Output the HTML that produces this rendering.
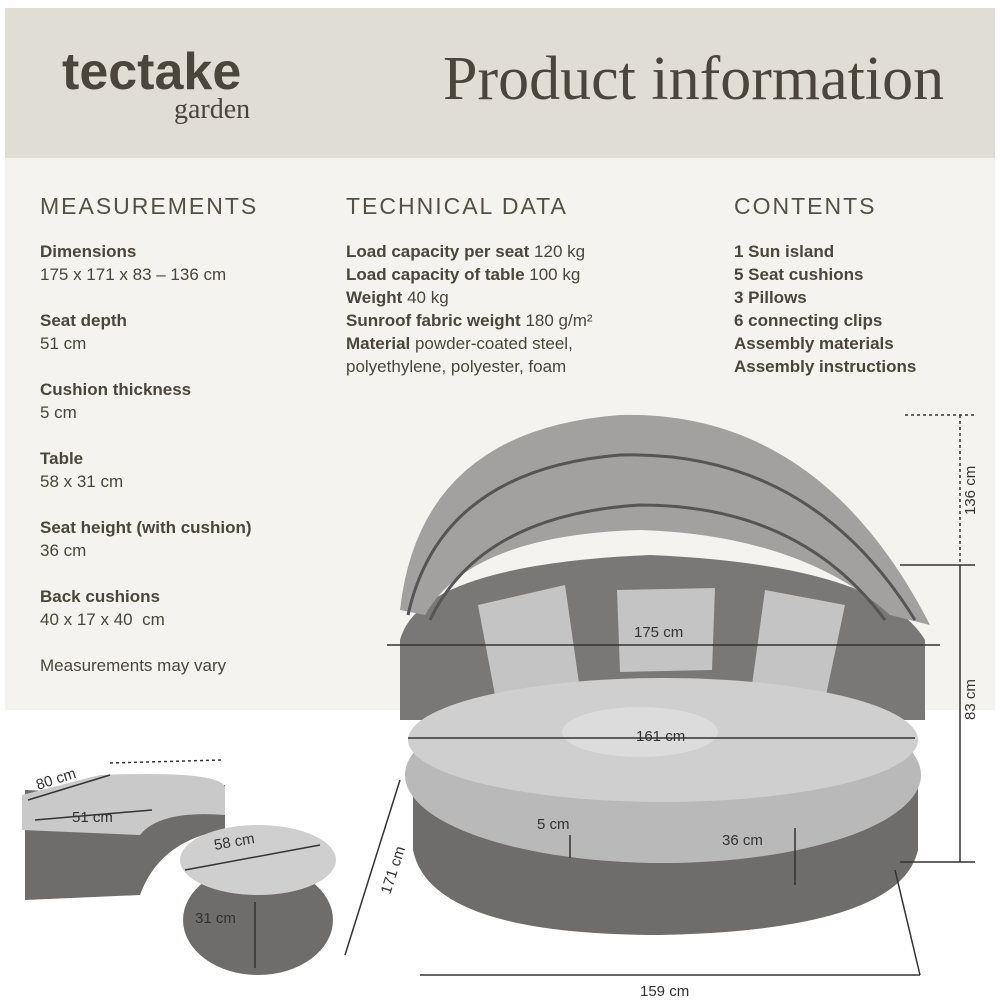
<!DOCTYPE html>
<html><head><meta charset="utf-8"><style>
body{margin:0;width:1000px;height:1000px;background:#fff;position:relative;overflow:hidden;font-family:"Liberation Sans",sans-serif;color:#4a463c}
.hdr{position:absolute;left:5px;top:8px;width:990px;height:150px;background:#e0ddd5}
.body{position:absolute;left:5px;top:158px;width:990px;height:552px;background:#f4f3ef}
.t{position:absolute;white-space:nowrap}
h3{margin:0;font-weight:normal;font-size:23px;letter-spacing:2px;color:#555046}
.c{font-size:17px;line-height:23px}
.c b{font-weight:bold}
.gap{height:23px}
.d{font-family:"Liberation Sans",sans-serif;font-size:15px;fill:#333}
</style></head><body>
<div class="hdr"></div><div class="body"></div>
<div class="t" style="left:62px;top:42px;font-size:52px;font-weight:bold;line-height:60px;letter-spacing:0px">tectake</div>
<div class="t" style="left:174px;top:94px;font-family:'Liberation Serif',serif;font-size:28px">garden</div>
<div class="t" style="left:443px;top:44px;font-family:'Liberation Serif',serif;font-size:62px">Product information</div>

<div class="t" style="left:40px;top:193px"><h3>MEASUREMENTS</h3></div>
<div class="t c" style="left:40px;top:240px"><b>Dimensions</b><br>175 x 171 x 83 – 136 cm<div class="gap"></div><b>Seat depth</b><br>51 cm<div class="gap"></div><b>Cushion thickness</b><br>5 cm<div class="gap"></div><b>Table</b><br>58 x 31 cm<div class="gap"></div><b>Seat height (with cushion)</b><br>36 cm<div class="gap"></div><b>Back cushions</b><br>40 x 17 x 40 &nbsp;cm<div class="gap"></div>Measurements may vary</div>

<div class="t" style="left:346px;top:193px"><h3>TECHNICAL DATA</h3></div>
<div class="t c" style="left:346px;top:240px"><b>Load capacity per seat</b> 120 kg<br><b>Load capacity of table</b> 100 kg<br><b>Weight</b> 40 kg<br><b>Sunroof fabric weight</b> 180 g/m²<br><b>Material</b> powder-coated steel,<br>polyethylene, polyester, foam</div>

<div class="t" style="left:734px;top:193px"><h3>CONTENTS</h3></div>
<div class="t c" style="left:734px;top:240px"><b>1 Sun island<br>5 Seat cushions<br>3 Pillows<br>6 connecting clips<br>Assembly materials<br>Assembly instructions</b></div>

<svg class="t" style="left:0;top:0" width="1000" height="1000">
<!-- back wicker -->
<path d="M400 640 Q420 565 650 555 Q880 565 925 640 L925 720 L400 720 Z" fill="#7a7876"/>
<!-- canopy -->
<path d="M400 610 Q420 430 620 415 Q820 410 930 625 L890 615 Q800 535 640 530 Q470 535 425 615 Z" fill="#a3a19f"/>
<path d="M408 615 Q440 470 620 455 Q810 450 915 620" fill="none" stroke="#555" stroke-width="3"/>
<path d="M430 620 Q480 515 640 505 Q800 505 885 620" fill="none" stroke="#555" stroke-width="3"/>
<!-- pillows -->
<path d="M478 605 L565 585 L580 690 L495 695 Z" fill="#c4c4c4"/>
<path d="M617 590 L715 588 L712 670 L620 672 Z" fill="#c4c4c4"/>
<path d="M765 590 L845 605 L825 700 L752 685 Z" fill="#c4c4c4"/>
<!-- base -->
<path d="M413 770 L413 850 Q430 935 660 935 Q900 930 918 850 L918 770 Z" fill="#6f6d6b"/>
<!-- seat -->
<ellipse cx="663" cy="775" rx="258" ry="88" fill="#b9b9b9"/>
<ellipse cx="663" cy="740" rx="255" ry="62" fill="#cfcfcf"/>
<ellipse cx="640" cy="732" rx="78" ry="25" fill="#dcdcdc"/>
<!-- dimension lines -->
<g stroke="#333" stroke-width="1.5" fill="none">
<line x1="387" y1="645" x2="940" y2="645"/><line x1="408" y1="738" x2="915" y2="738"/>
<line x1="905" y1="415" x2="975" y2="415" stroke-dasharray="3,3"/><line x1="960" y1="415" x2="960" y2="565" stroke-dasharray="3,3"/>
<line x1="900" y1="565" x2="975" y2="565"/><line x1="960" y1="565" x2="960" y2="862"/><line x1="900" y1="862" x2="975" y2="862"/>
<line x1="400" y1="780" x2="345" y2="955"/><line x1="420" y1="975" x2="920" y2="975"/><line x1="920" y1="975" x2="895" y2="870"/>
<line x1="570" y1="835" x2="570" y2="858"/><line x1="795" y1="828" x2="795" y2="885"/>
</g>
<text class="d" x="634" y="637">175 cm</text><text class="d" x="636" y="741">161 cm</text>
<text class="d" x="537" y="829">5 cm</text><text class="d" x="722" y="845">36 cm</text>
<text class="d" x="640" y="996">159 cm</text>
<text class="d" transform="translate(975 515) rotate(-90)">136 cm</text>
<text class="d" transform="translate(975 720) rotate(-90)">83 cm</text>
<text class="d" transform="translate(390 895) rotate(-72)">171 cm</text>
<!-- footstool -->
<path d="M25 790 L25 900 L140 895 Q160 840 225 830 L225 785 Q150 780 150 795 Z" fill="#6f6d6b"/>
<path d="M22 795 L22 830 L140 835 Q160 810 225 815 L225 790 Q230 770 100 775 Z" fill="#c9c9c9"/>
<ellipse cx="258" cy="920" rx="75" ry="55" fill="#6f6d6b"/>
<ellipse cx="258" cy="860" rx="78" ry="35" fill="#cfcfcf"/>
<g stroke="#333" stroke-width="1.5" fill="none">
<line x1="28" y1="800" x2="110" y2="775"/><line x1="110" y1="763" x2="222" y2="760" stroke-dasharray="3,3"/>
<line x1="35" y1="820" x2="152" y2="810"/><line x1="185" y1="870" x2="320" y2="845"/><line x1="255" y1="902" x2="255" y2="968"/>
</g>
<text class="d" transform="translate(38 790) rotate(-18)">80 cm</text>
<text class="d" x="72" y="822">51 cm</text>
<text class="d" transform="translate(215 850) rotate(-10)">58 cm</text>
<text class="d" x="195" y="923">31 cm</text>
</svg>
</body></html>
